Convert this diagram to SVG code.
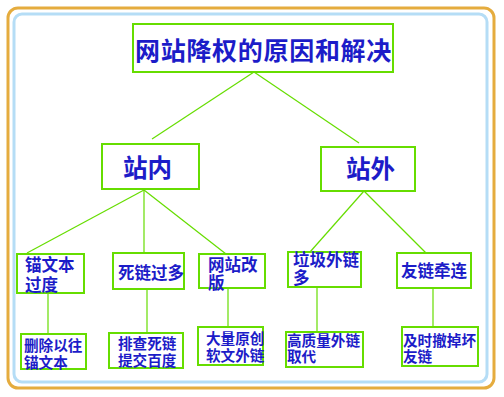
<svg xmlns="http://www.w3.org/2000/svg" width="504" height="397" viewBox="0 0 504 397">
<style>
.box{fill:#fff;stroke:#66dd00;stroke-width:2}
.ln{stroke:#66dd00;stroke-width:1.2;fill:none}
text{font-family:"Noto Sans CJK SC","Noto Sans",sans-serif;fill:#1c1cc8;font-weight:bold}
.t1{font-size:25px;letter-spacing:0.7px}
.t2{font-size:24.5px}
.t3{font-size:16.5px}
.t4{font-size:14.6px}
</style>
<rect x="0" y="0" width="504" height="397" fill="#fff"/>
<rect x="8" y="8" width="486" height="380" rx="10" fill="none" stroke="#e5ac3e" stroke-width="3"/>
<rect x="14" y="14" width="473" height="368" rx="8" fill="none" stroke="#b5ddf6" stroke-width="3"/>
<g id="connectors">
<line class="ln" x1="254" y1="72" x2="152" y2="139"/>
<line class="ln" x1="254" y1="72" x2="359" y2="143"/>
<line class="ln" x1="144" y1="190" x2="27" y2="253"/>
<line class="ln" x1="144" y1="190" x2="144" y2="253"/>
<line class="ln" x1="144" y1="190" x2="226" y2="254"/>
<line class="ln" x1="364" y1="191" x2="310" y2="252"/>
<line class="ln" x1="364" y1="191" x2="426" y2="253"/>
<line class="ln" x1="48" y1="293" x2="48" y2="334"/>
<line class="ln" x1="147" y1="289" x2="147" y2="333"/>
<line class="ln" x1="228" y1="288" x2="228" y2="327"/>
<line class="ln" x1="317" y1="287" x2="317" y2="332"/>
<line class="ln" x1="433" y1="288" x2="433" y2="327"/>
</g>
<g id="title"><rect class="box" x="133" y="24" width="260" height="48"/><text class="t1" x="135" y="60">网站降权的原因和解决</text></g>
<g id="zhannei"><rect class="box" x="102" y="144" width="97" height="45"/><text class="t2" x="123" y="177">站内</text></g>
<g id="zhanwai"><rect class="box" x="321" y="147" width="94" height="44"/><text class="t2" x="346" y="178">站外</text></g>
<g id="maowenben"><rect class="box" x="17" y="254" width="67" height="39"/><text class="t3" x="25" y="271">锚文本<tspan x="25" y="291">过度</tspan></text></g>
<g id="silian"><rect class="box" x="113" y="253" width="71" height="36"/><text class="t3" x="118" y="279">死链过多</text></g>
<g id="gaiban"><rect class="box" x="199" y="254" width="66" height="34"/><text class="t3" x="208" y="271">网站改<tspan x="208" y="289">版</tspan></text></g>
<g id="laji"><rect class="box" x="288" y="252" width="73" height="35"/><text class="t3" x="293" y="266">垃圾外链<tspan x="293" y="284">多</tspan></text></g>
<g id="youlian"><rect class="box" x="397" y="253" width="74" height="35"/><text class="t3" x="401" y="277">友链牵连</text></g>
<g id="shanchu"><rect class="box" x="21" y="334" width="65" height="35"/><text class="t4" x="24" y="351">删除以往<tspan x="24" y="368">锚文本</tspan></text></g>
<g id="paicha"><rect class="box" x="109" y="333" width="74" height="35"/><text class="t4" x="118" y="349">排查死链<tspan x="118" y="366">提交百度</tspan></text></g>
<g id="dayuan"><rect class="box" x="198" y="327" width="65" height="38"/><text class="t4" x="206" y="344">大量原创<tspan x="206" y="361">软文外链</tspan></text></g>
<g id="gaozhi"><rect class="box" x="286" y="332" width="77" height="35"/><text class="t4" x="287" y="346">高质量外链<tspan x="287" y="362">取代</tspan></text></g>
<g id="jishi"><rect class="box" x="402" y="327" width="76" height="39"/><text class="t4" x="403" y="346">及时撤掉坏<tspan x="403" y="362">友链</tspan></text></g>
</svg>
